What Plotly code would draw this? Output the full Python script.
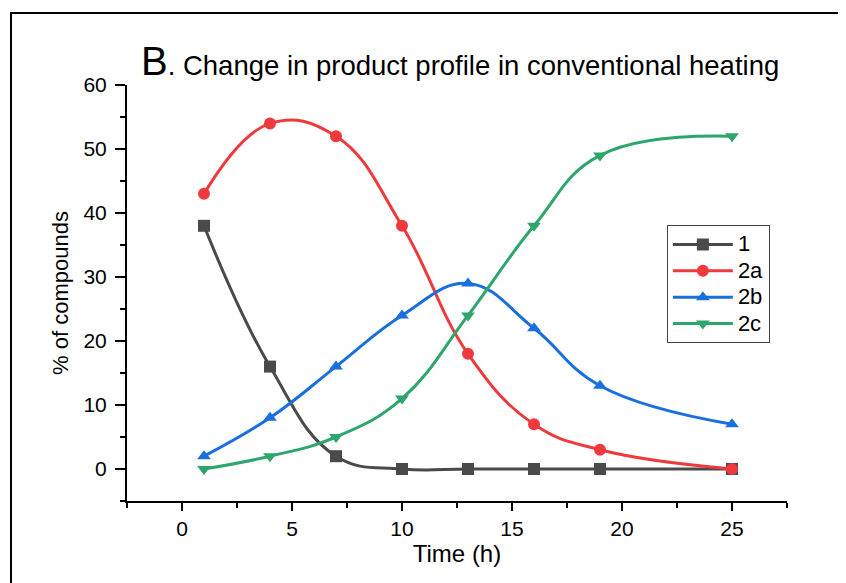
import plotly.graph_objects as go

time_h = [1, 4, 7, 10, 13, 16, 19, 25]
s1 = [38, 16, 2, 0, 0, 0, 0, 0]
s2a = [43, 54, 52, 38, 18, 7, 3, 0]
s2b = [2, 8, 16, 24, 29, 22, 13, 7]
s2c = [0, 2, 5, 11, 24, 38, 49, 52]

series = [
    ("1", s1, "#4a4a4a", "square"),
    ("2a", s2a, "#ee3a3d", "circle"),
    ("2b", s2b, "#1a6fdf", "triangle-up"),
    ("2c", s2c, "#2ca66a", "triangle-down"),
]

fig = go.Figure()
for name, vals, color, sym in series:
    fig.add_trace(go.Scatter(
        x=time_h, y=vals, name='<span style="font-size:22px">%s</span>' % name,
        mode="lines+markers",
        line=dict(color=color, width=3, shape="spline", smoothing=1.2),
        marker=dict(symbol=sym, size=12, color=color),
    ))

font = "Liberation Sans, Arial, sans-serif"
# page body adds an 8px offset; figure is sized so the plot area lands at x 127-787, y 85-501
fig.update_layout(
    width=838, height=575,
    margin=dict(l=119, r=59, t=77, b=82, autoexpand=False),
    paper_bgcolor="white", plot_bgcolor="white",
    font=dict(family=font, color="black"),
    showlegend=True,
    legend=dict(
        x=0.818, y=0.663, xanchor="left", yanchor="top",
        bordercolor="#444444", borderwidth=1, bgcolor="white",
        font=dict(size=18, family=font), itemwidth=60,
        tracegroupgap=0,
    ),
)
fig.update_xaxes(
    range=[-2.5, 27.5], tickvals=[0, 5, 10, 15, 20, 25],
    showline=True, linecolor="black", linewidth=2,
    ticks="outside", ticklen=8, tickwidth=2, tickcolor="black",
    minor=dict(dtick=2.5, tick0=0, ticks="outside", ticklen=5, tickwidth=2, tickcolor="black"),
    showgrid=False, zeroline=False, automargin=False,
    tickfont=dict(size=21),
    title=dict(text="Time (h)", font=dict(size=24), standoff=6),
)
fig.update_yaxes(
    range=[-5, 60], tickvals=[0, 10, 20, 30, 40, 50, 60],
    showline=True, linecolor="black", linewidth=2,
    ticks="outside", ticklen=10, tickwidth=2, tickcolor="black",
    minor=dict(dtick=5, tick0=0, ticks="outside", ticklen=5, tickwidth=2, tickcolor="black"),
    showgrid=False, zeroline=False, automargin=False,
    tickfont=dict(size=21), ticklabelstandoff=4,
    title=dict(text="% of compounds", font=dict(size=22), standoff=9),
)

# outer frame
fig.add_shape(type="rect", xref="paper", yref="paper",
              x0=(11 - 127) / 660, x1=(860 - 127) / 660,
              y0=(501 - 600) / 416, y1=(501 - 13) / 416,
              line=dict(color="black", width=2), layer="below")

fig.add_annotation(
    xref="paper", yref="paper", x=(139 - 127) / 660, y=(501 - 85) / 416,
    xanchor="left", yanchor="bottom", showarrow=False,
    text='<span style="font-size:40px">B</span>. Change in product profile in conventional heating',
    font=dict(size=27.5, family=font, color="black"),
)

fig.write_html("out.html")
